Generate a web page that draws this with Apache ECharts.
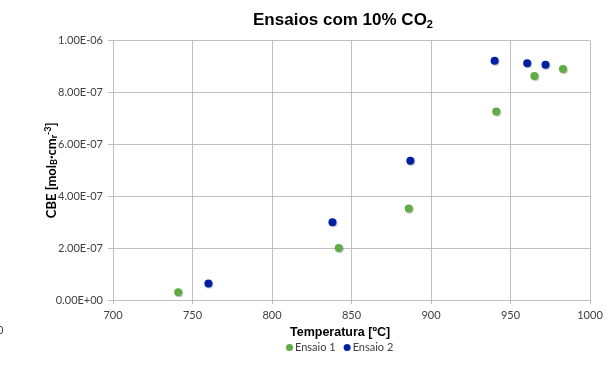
<!DOCTYPE html>
<html>
<head>
<meta charset="utf-8">
<script src="https://cdn.jsdelivr.net/npm/echarts@6/dist/echarts.min.js"></script>
<style>
  html, body { margin: 0; padding: 0; background: #fff; }
  #chart { width: 614px; height: 380px; }
</style>
</head>
<body>
<div id="chart"></div>
<script>
// Temperature [ºC] and CBE values for each test run
const ensaio1Temp = [741, 842, 886, 941, 965, 983];
const ensaio1CBE  = [3.0e-8, 2.0e-7, 3.53e-7, 7.26e-7, 8.63e-7, 8.90e-7];

const ensaio2Temp = [760, 838, 887, 940, 960.5, 972];
const ensaio2CBE  = [6.4e-8, 3.0e-7, 5.37e-7, 9.22e-7, 9.12e-7, 9.07e-7];

const seriesNames = ['Ensaio 1', 'Ensaio 2'];

function pairs(xs, ys) {
  return xs.map((x, i) => [x, ys[i]]);
}

// Excel-style scientific labels: 1.00E-06, 0.00E+00
function sciLabel(v) {
  if (Math.abs(v) < 1e-15) return '0.00E+00';
  const s = v.toExponential(2).split('e');
  const exp = parseInt(s[1], 10);
  const sign = exp < 0 ? '-' : '+';
  const digits = String(Math.abs(exp)).padStart(2, '0');
  return s[0] + 'E' + sign + digits;
}

const chart = echarts.init(document.getElementById('chart'));
const gridColor = '#BFBFBF';
const labelFont = 'Lato, "Open Sans", sans-serif';
const pointShadow = { shadowBlur: 1, shadowColor: 'rgba(0,0,0,0.25)', shadowOffsetX: 1, shadowOffsetY: 1 };

chart.setOption({
  animation: false,
  backgroundColor: '#ffffff',
  title: {
    text: 'Ensaios com 10% CO{sub|2}',
    left: 338,
    top: 6,
    textAlign: 'center',
    textStyle: {
      fontFamily: '"Liberation Sans", Arial, sans-serif',
      fontSize: 17,
      fontWeight: 'bold',
      color: '#000',
      rich: {
        sub: {
          fontFamily: '"Liberation Sans", Arial, sans-serif',
          fontSize: 11,
          fontWeight: 'bold',
          color: '#000',
          verticalAlign: 'bottom',
          padding: [8, 0, 0, 0]
        }
      }
    }
  },
  grid: { left: 113, right: 24, top: 40.5, bottom: 80, containLabel: false },
  xAxis: {
    type: 'value',
    min: 700,
    max: 1000,
    interval: 50,
    axisLine: { show: true, lineStyle: { color: gridColor, width: 1 } },
    axisTick: { show: true, length: 4, lineStyle: { color: gridColor } },
    splitLine: { show: true, lineStyle: { color: gridColor, width: 1 } },
    axisLabel: {
      fontFamily: labelFont, fontSize: 11, color: '#404040', margin: 10,
      formatter: v => String(v)
    }
  },
  yAxis: {
    type: 'value',
    min: 0,
    max: 1e-6,
    interval: 2e-7,
    name: 'CBE [mol{sub|B}·cm{sub|r}{sup|-3}]',
    nameLocation: 'middle',
    nameRotate: 90,
    nameGap: 54,
    nameMoveOverlap: false,
    nameTextStyle: {
      fontFamily: labelFont,
      fontSize: 13,
      fontWeight: 'bold',
      color: '#000',
      rich: {
        sub: { fontFamily: labelFont, fontSize: 9, fontWeight: 'bold', color: '#000', padding: [6, 0, 0, 0] },
        sup: { fontFamily: labelFont, fontSize: 9, fontWeight: 'bold', color: '#000', padding: [0, 0, 6, 0] }
      }
    },
    axisLine: { show: true, lineStyle: { color: gridColor, width: 1 } },
    axisTick: { show: true, length: 5, lineStyle: { color: gridColor } },
    splitLine: { show: true, lineStyle: { color: gridColor, width: 1 } },
    axisLabel: {
      fontFamily: labelFont, fontSize: 11, color: '#404040', margin: 10,
      formatter: sciLabel
    }
  },
  legend: {
    data: seriesNames,
    left: 281,
    top: 337,
    icon: 'circle',
    itemWidth: 7,
    itemHeight: 7,
    itemGap: 8,
    textStyle: { fontFamily: labelFont, fontSize: 11, color: '#404040', padding: [0, 0, 0, -3] }
  },
  graphic: [
    {
      type: 'text',
      left: 335 - 45,
      top: 326,
      style: {
        text: 'Temperatura [ºC]',
        font: 'bold 12.5px "Liberation Sans Narrow", "Liberation Sans", Arial, sans-serif',
        fill: '#000'
      }
    },
    {
      type: 'text',
      left: -3,
      top: 325,
      style: { text: '0', font: '11px Lato, sans-serif', fill: '#404040' }
    }
  ],
  series: [
    {
      name: seriesNames[0],
      type: 'scatter',
      symbol: 'circle',
      symbolSize: 8,
      itemStyle: Object.assign({ color: '#5FAB44', opacity: 1 }, pointShadow),
      data: pairs(ensaio1Temp, ensaio1CBE)
    },
    {
      name: seriesNames[1],
      type: 'scatter',
      symbol: 'circle',
      symbolSize: 8,
      itemStyle: Object.assign({ color: '#0020A3', opacity: 1 }, pointShadow),
      data: pairs(ensaio2Temp, ensaio2CBE)
    }
  ]
});
</script>
</body>
</html>
